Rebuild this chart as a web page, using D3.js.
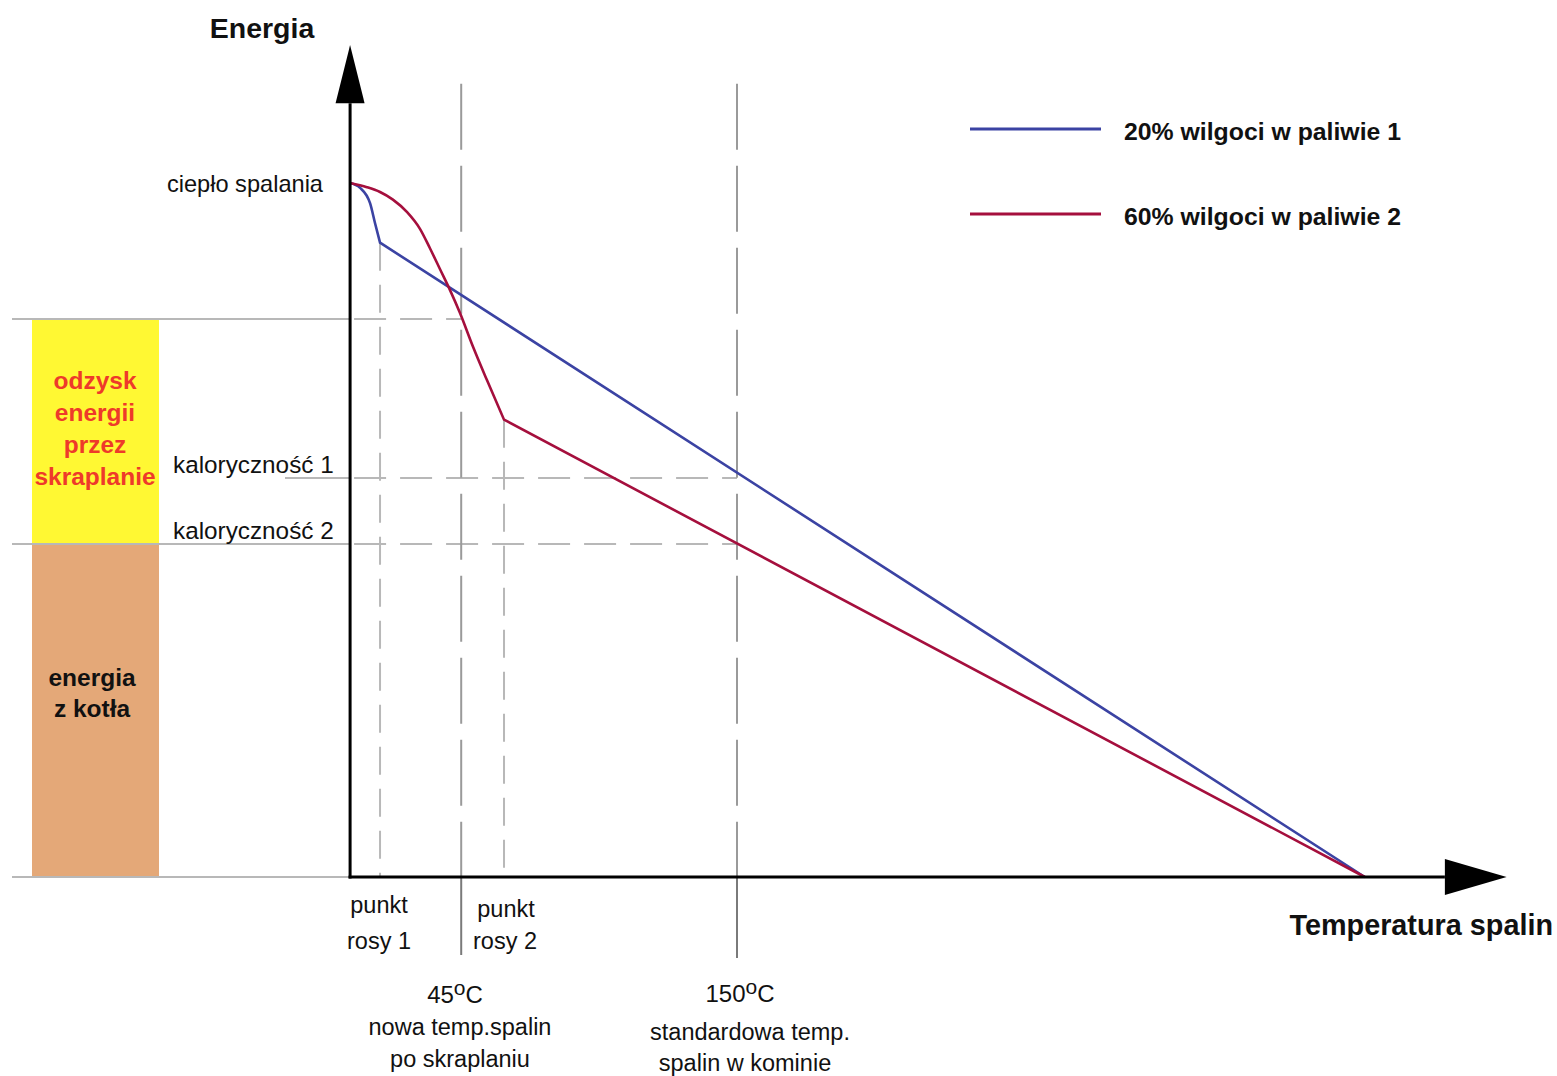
<!DOCTYPE html>
<html>
<head>
<meta charset="utf-8">
<script src="https://cdn.jsdelivr.net/npm/d3@7"></script>
<style>
  body { margin: 0; background: #fff; }
  text { font-family: "Liberation Sans", Arial, sans-serif; }
</style>
</head>
<body>
<div id="chart"></div>
<script>
// ---- dane (temperatura w °C, energia w % ciepła spalania) ----
const blueTemp = [2.7, 6.5, 10.3, 12.2, 14.1, 389];
const blueEnergy = [100, 99.3, 97.1, 94.2, 91.4, 0];

const redTemp = [2.7, 9.1, 14.1, 19.0, 24.4, 29.3, 33.1, 36.9, 40.7, 44.5, 49.5, 54.8, 61.3, 389];
const redEnergy = [100, 99.4, 98.7, 97.6, 95.8, 93.4, 90.6, 87.6, 84.6, 81.3, 76.4, 71.6, 65.9, 0];

const seriesNames = ["20% wilgoci w paliwie 1", "60% wilgoci w paliwie 2"];

// poziomy energii
const heatLevel = 100;      // ciepło spalania
const condensTop = 80.4;    // górna granica odzysku
const kal1 = 57.5;          // kaloryczność 1
const kal2 = 48.0;          // kaloryczność 2

// temperatury charakterystyczne
const dew1 = 14.1;
const dew2 = 61.3;
const tempNew = 45;
const tempStd = 150;
const tempStart = 2.7;
const tempAxisEnd = 419.5;
const tempArrowTip = 443;
const energyAxisEnd = 111.5;
const energyArrowTip = 119.9;

// ---------------------------------------------------------------------------

const W = 1557, H = 1076;
const blue = "#3b43a3", red = "#a50f3d";
const grayLight = "#b8b8b8", grayDark = "#9a9a9a";

const svg = d3.select("#chart").append("svg")
  .attr("width", W).attr("height", H);

const x = d3.scaleLinear().domain([0, 150]).range([343, 737]);
const y = d3.scaleLinear().domain([0, 100]).range([877, 183]);

const x0 = x(tempStart), y0 = y(0);

// słupek po lewej
const barX = 32, barW = 127;
svg.append("rect")
  .attr("x", barX).attr("y", y(condensTop))
  .attr("width", barW).attr("height", y(kal2) - y(condensTop))
  .attr("fill", "#fff833");
svg.append("rect")
  .attr("x", barX).attr("y", y(kal2))
  .attr("width", barW).attr("height", y(0) - y(kal2))
  .attr("fill", "#e4a878");

// linie poziome pełne po lewej stronie osi
[condensTop, kal2, 0].forEach(function (e) {
  svg.append("line")
    .attr("x1", 12).attr("x2", x0)
    .attr("y1", y(e)).attr("y2", y(e))
    .attr("stroke", grayLight).attr("stroke-width", 2);
});
svg.append("line")
  .attr("x1", 285).attr("x2", x0)
  .attr("y1", y(kal1)).attr("y2", y(kal1))
  .attr("stroke", grayLight).attr("stroke-width", 2);

// linie przerywane poziome
function hDash(e, tEnd) {
  svg.append("line")
    .attr("x1", x0 + 4).attr("x2", x(tEnd))
    .attr("y1", y(e)).attr("y2", y(e))
    .attr("stroke", grayLight).attr("stroke-width", 2)
    .attr("stroke-dasharray", "32,14");
}
hDash(condensTop, tempNew);
hDash(kal1, tempStd);
hDash(kal2, tempStd);

// linie pionowe
function vDash(t, eTop, color, dash) {
  svg.append("line")
    .attr("x1", x(t)).attr("x2", x(t))
    .attr("y1", y(eTop)).attr("y2", y0)
    .attr("stroke", color).attr("stroke-width", 2)
    .attr("stroke-dasharray", dash);
}
vDash(dew1, 91.4, grayLight, "28,14");
vDash(dew2, 65.9, grayLight, "28,14");
vDash(tempNew, 114.3, grayDark, "66,16");
vDash(tempStd, 114.3, grayDark, "66,16");

// pełne odcinki pod osią
[[tempNew, 955], [tempStd, 958]].forEach(function (d) {
  svg.append("line")
    .attr("x1", x(d[0])).attr("x2", x(d[0]))
    .attr("y1", y0).attr("y2", d[1])
    .attr("stroke", "#7a7a7a").attr("stroke-width", 2);
});

// krzywe: część zakrzywiona do punktu rosy, dalej prosta
const smooth = d3.line()
  .x(function (d) { return x(d[0]); })
  .y(function (d) { return y(d[1]); })
  .curve(d3.curveMonotoneX);

function curvePath(temps, energies) {
  const pts = d3.zip(temps, energies);
  const last = pts.pop();
  return smooth(pts) + "L" + x(last[0]) + "," + y(last[1]);
}

svg.append("path")
  .attr("d", curvePath(blueTemp, blueEnergy))
  .attr("fill", "none").attr("stroke", blue).attr("stroke-width", 2.6);

svg.append("path")
  .attr("d", curvePath(redTemp, redEnergy))
  .attr("fill", "none").attr("stroke", red).attr("stroke-width", 2.6);

// osie
svg.append("line")
  .attr("x1", x0).attr("x2", x0)
  .attr("y1", y0 + 1.5).attr("y2", y(energyAxisEnd))
  .attr("stroke", "#000").attr("stroke-width", 3);
svg.append("line")
  .attr("x1", x0 - 1.5).attr("x2", x(tempAxisEnd))
  .attr("y1", y0).attr("y2", y0)
  .attr("stroke", "#000").attr("stroke-width", 3);

svg.append("path")
  .attr("d", "M" + x0 + "," + y(energyArrowTip) +
    "L" + (x0 + 14.5) + "," + y(energyAxisEnd) +
    "L" + (x0 - 14.5) + "," + y(energyAxisEnd) + "Z")
  .attr("fill", "#000");
svg.append("path")
  .attr("d", "M" + x(tempArrowTip) + "," + y0 +
    "L" + x(tempAxisEnd) + "," + (y0 - 18) +
    "L" + x(tempAxisEnd) + "," + (y0 + 18) + "Z")
  .attr("fill", "#000");

// legenda
const legendY = [129, 214];
[blue, red].forEach(function (c, i) {
  svg.append("line")
    .attr("x1", 970).attr("x2", 1101)
    .attr("y1", legendY[i]).attr("y2", legendY[i])
    .attr("stroke", c).attr("stroke-width", 3);
  svg.append("text")
    .attr("x", 1124).attr("y", legendY[i] + 11)
    .attr("font-size", 24.8).attr("font-weight", "bold")
    .attr("fill", "#111")
    .text(seriesNames[i]);
});

// teksty
function label(txt, tx, ty, opts) {
  opts = opts || {};
  return svg.append("text")
    .attr("x", tx).attr("y", ty)
    .attr("text-anchor", opts.anchor || "middle")
    .attr("font-size", opts.size || 22)
    .attr("font-weight", opts.bold ? "bold" : "normal")
    .attr("fill", opts.color || "#111")
    .text(txt);
}

label("Energia", 262, 38, { size: 28.5, bold: true });
label("Temperatura spalin", 1553, 935, { size: 28.8, bold: true, anchor: "end" });

label("ciepło spalania", 323, 192, { size: 23.6, anchor: "end" });
label("kaloryczność 1", 173, 473, { size: 24.3, anchor: "start" });
label("kaloryczność 2", 173, 539, { size: 24.3, anchor: "start" });

const condensLines = ["odzysk", "energii", "przez", "skraplanie"];
condensLines.forEach(function (t, i) {
  label(t, 95, 389 + i * 32, { size: 24.5, bold: true, color: "#ee3a2a" });
});
["energia", "z kotła"].forEach(function (t, i) {
  label(t, 92, 686 + i * 31, { size: 24.5, bold: true });
});

label("punkt", 379, 913, { size: 23.5 });
label("rosy 1", 379, 949, { size: 23.5 });
label("punkt", 506, 917, { size: 23.5 });
label("rosy 2", 505, 949, { size: 23.5 });

function degLabel(num, tx, ty) {
  const t = label("", tx, ty, { size: 24 });
  t.append("tspan").text(num);
  t.append("tspan").attr("dy", -8).attr("font-size", 21).text("o");
  t.append("tspan").attr("dy", 8).text("C");
}
degLabel("45", 455, 1003);
degLabel("150", 740, 1002);

label("nowa temp.spalin", 460, 1035, { size: 23.5 });
label("po skraplaniu", 460, 1067, { size: 23.5 });
label("standardowa temp.", 750, 1040, { size: 23.5 });
label("spalin w kominie", 745, 1071, { size: 23.5 });
</script>
</body>
</html>
